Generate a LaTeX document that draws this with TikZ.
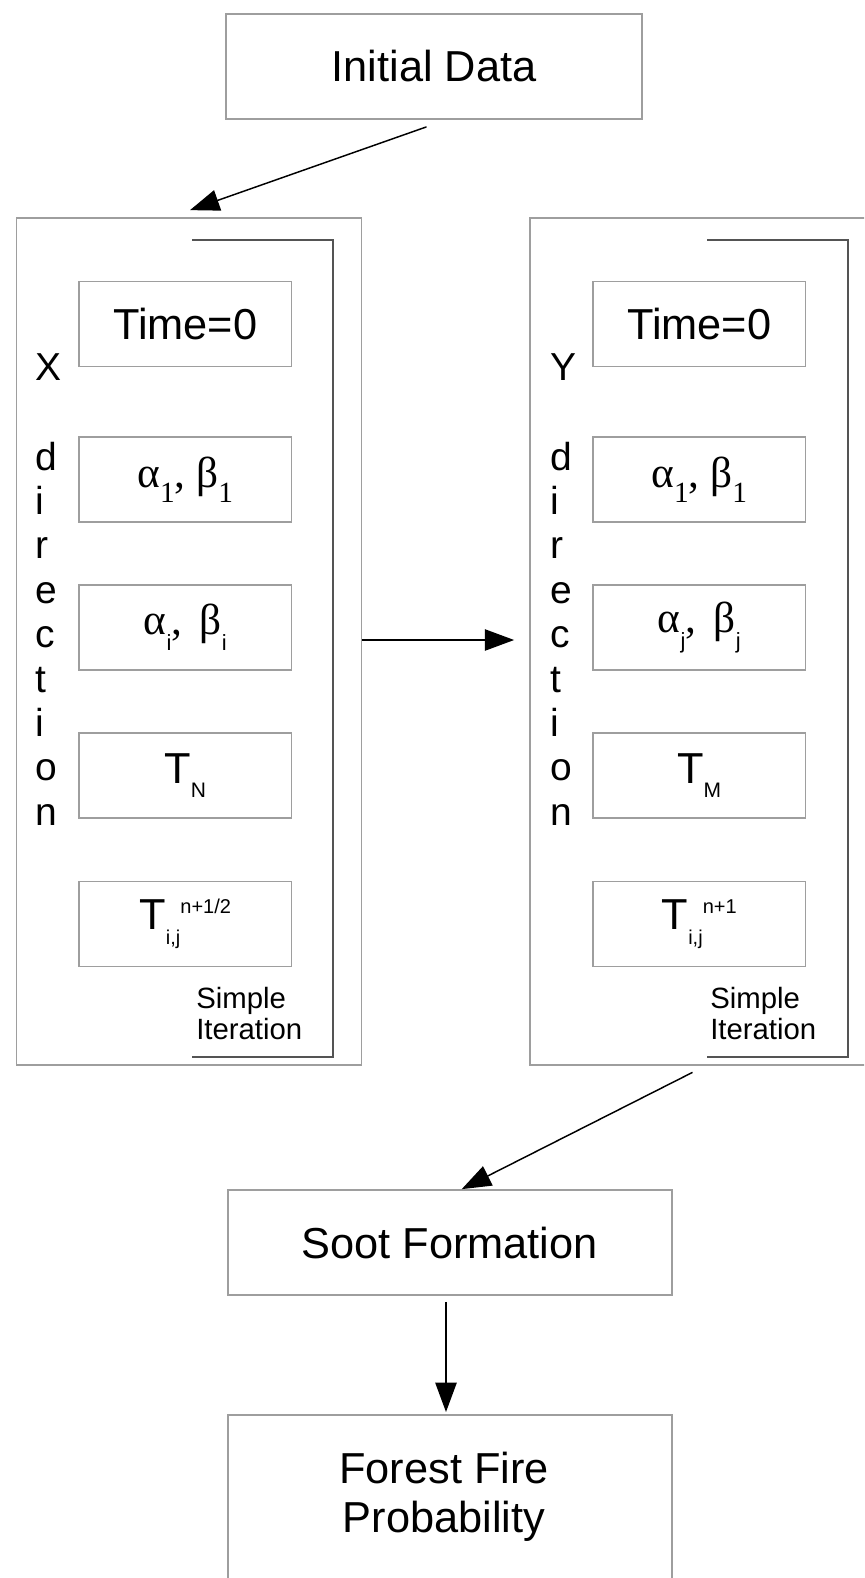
\documentclass[tikz,border=0pt]{standalone}
\usepackage{fontspec}
\setmainfont{Liberation Sans}
\newfontfamily\grk{Liberation Serif}
\usetikzlibrary{arrows.meta,calc}
\definecolor{boxgray}{gray}{0.62}
\definecolor{brkgray}{gray}{0.33}
\newcommand\fsz[2]{\fontsize{#1}{#2}\selectfont}
\newcommand\lowr[2]{\raisebox{-#1}{#2}}
\newcommand\rais[2]{\raisebox{#1}{#2}}
\newcommand\grkA[1]{{\grk\fsz{32.5pt}{36pt}#1}}
\newcommand\subS[1]{\lowr{11.25pt}{\grk\fsz{22pt}{24pt}#1}}
\newcommand\subI[1]{\lowr{12pt}{\fsz{16.5pt}{18pt}#1}}
\begin{document}
\begin{tikzpicture}[x=0.75pt,y=-0.75pt,
  box/.style={draw=boxgray,line width=1.3pt,inner sep=0pt,align=center,font=\fsz{32.5pt}{37pt}},
  bigbox/.style={box,minimum width=258.75pt,minimum height=635.25pt},
  smallbox/.style={box,minimum width=159.4pt,minimum height=63.75pt},
  widebox/.style={box,minimum width=333pt,minimum height=78.75pt},
  vletter/.style={inner sep=0pt,anchor=base west,font=\fsz{29.25pt}{33pt}},
  iterlabel/.style={inner sep=0pt,anchor=north west,align=left,font=\fsz{22pt}{23.25pt}},
  bracketline/.style={draw=brkgray,line width=1.7pt},
  arr/.style={-{Triangle[length=22pt,width=16pt]},line width=1.1pt,black}]
\useasboundingbox (0,0) rectangle (864,1578);
\fill[white] (0,0) rectangle (864,1578);
\clip (0,0) rectangle (864,1578);

% top box
\node[box,minimum width=312pt,minimum height=78.75pt] (init) at (434,66.5) {Initial Data};

% big boxes
\node[bigbox] (xbox) at (189,641.5) {};
\node[bigbox] (ybox) at (702.5,641.5) {};

% brackets
\draw[bracketline] (192,240) -- (333,240) -- (333,1057) -- (192,1057);
\draw[bracketline] (707,240) -- (848,240) -- (848,1057) -- (707,1057);

% left column boxes
\node[smallbox] (xt0) at (185.25,324) {Time=0};
\node[smallbox] (xa1) at (185.25,479.5) {\grkA{α}\subS{1}\grkA{, β}\subS{1}};
\node[smallbox] (xai) at (185.25,627.5) {\grkA{α}\subI{i}\grkA{,\hspace{5pt} β}\subI{i}};
\node[smallbox] (xtn) at (185.25,775.5) {T\lowr{10pt}{\fsz{15.75pt}{18pt}N}};
\node[smallbox] (xtij) at (185.25,924) {T\lowr{11.25pt}{\fsz{15pt}{18pt}i,j}\rais{11.8pt}{\fsz{15pt}{18pt}n+1/2}};

% right column boxes
\node[smallbox] (yt0) at (699.25,324) {Time=0};
\node[smallbox] (ya1) at (699.25,479.5) {\grkA{α}\subS{1}\grkA{, β}\subS{1}};
\node[smallbox] (yaj) at (699.25,627.5) {\grkA{α}\subI{j}\grkA{,\hspace{5pt} β}\subI{j}};
\node[smallbox] (ytm) at (699.25,775.5) {T\lowr{10pt}{\fsz{15.75pt}{18pt}M}};
\node[smallbox] (ytij) at (699.25,924) {T\lowr{11.25pt}{\fsz{15pt}{18pt}i,j}\rais{11.8pt}{\fsz{15pt}{18pt}n+1}};

% vertical labels
\foreach \l/\y [count=\k] in {X/380,d/470,i/514.4,r/558.8,e/603.2,c/647.6,t/692,i/736.4,o/780.8,n/825.2}
  \node[vletter] (xl\k) at (35,\y) {\l};
\foreach \l/\y [count=\k] in {Y/380,d/470,i/514.4,r/558.8,e/603.2,c/647.6,t/692,i/736.4,o/780.8,n/825.2}
  \node[vletter] (yl\k) at (550,\y) {\l};

% simple iteration labels
\node[iterlabel] (xiter) at (196,987) {Simple\\Iteration};
\node[iterlabel] (yiter) at (710,987) {Simple\\Iteration};

% lower boxes
\node[widebox] (soot) at (449.7,1242.5) {Soot Formation};
\node[box,minimum width=333pt,minimum height=165pt,anchor=north] (forest) at (449.7,1414) {};
\node[inner sep=0pt,anchor=north,align=center,font=\fsz{32.5pt}{36.75pt}] (forestlbl) at (444,1452) {Forest Fire\\Probability};

% arrows
\draw[arr] ($(init.south)+(-7.5,7)$) -- ($(xbox.north)+(1,-7)$);
\draw[arr] ($(xbox.east)+(0,-1.5)$) -- ($(ybox.west)+(-15,-1.5)$);
\draw[arr] ($(ybox.south)+(-10,6.5)$) -- ($(soot.north)+(12,0)$);
\draw[arr] ($(soot.south)+(-3.7,6)$) -- ($(forest.north)+(-3.7,-2)$);
\end{tikzpicture}
\end{document}
